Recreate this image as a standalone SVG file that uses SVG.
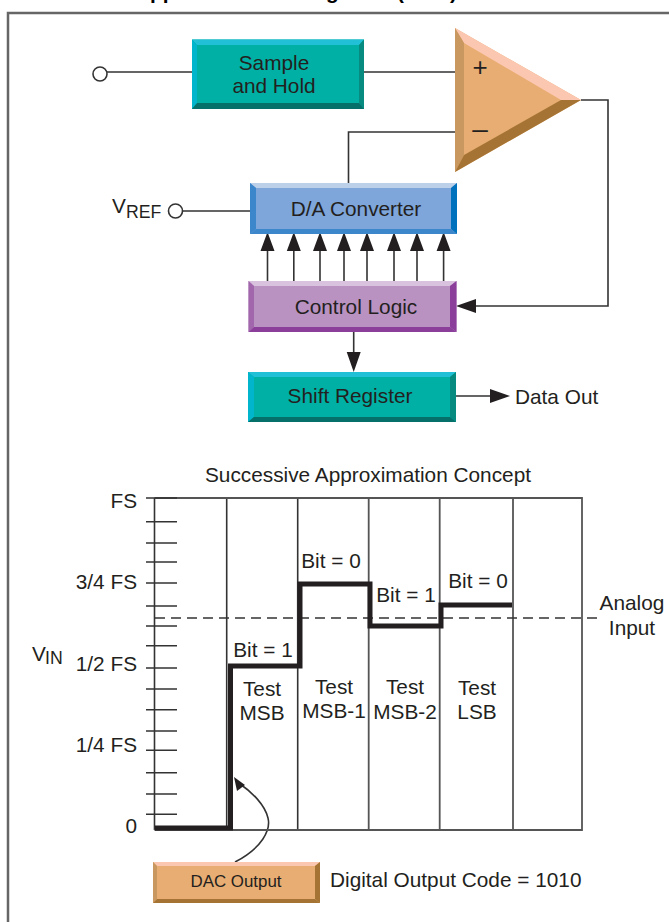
<svg xmlns="http://www.w3.org/2000/svg" width="669" height="922" viewBox="0 0 669 922">
<style>
text{font-family:"Liberation Sans",Arial,sans-serif;font-size:20.800px;fill:#231f20}
.m{text-anchor:middle}.e{text-anchor:end}
.h{font-weight:bold;fill:#000}
.sub{font-size:17.700px}
.l{fill:none;stroke:#333;stroke-width:1.6}
.t{fill:none;stroke:#333;stroke-width:1.6}
.g{fill:none;stroke:#555;stroke-width:1.8}
.s{fill:none;stroke:#231f20;stroke-width:5;stroke-linejoin:miter}
.a{fill:#231f20}
.c{fill:#fff;stroke:#333;stroke-width:1.6}
</style>
<rect x="8" y="13" width="670" height="920" fill="none" stroke="#666" stroke-width="2.5"/>
<g id="title-fragments">
<text class="h" x="150" y="-1">pp</text><text class="h" x="326" y="-1">g</text><text class="h" x="397" y="-1">(</text><text class="h" x="450" y="-1">)</text>
</g>
<g id="connectors">
<path class="l" d="M107 72H192M364 72H455M455 132H348.500V184M581 100H608V306H470M175 211H250"/>
<path class="l" d="M267.500 284V248M293.800 284V248M320 284V248M344 284V248M367 284V248M394 284V248M417 284V248M443.600 284V248M353.700 332V355M456 396H492"/>
<path class="a" d="M260.500 251L267.500 232L274.500 251ZM286.800 251L293.800 232L300.800 251ZM313 251L320 232L327 251ZM337 251L344 232L351 251ZM360 251L367 232L374 251ZM387 251L394 232L401 251ZM410 251L417 232L424 251ZM436.600 251L443.600 232L450.600 251ZM346.700 352L353.700 372L360.700 352ZM490 389L510 396L490 403ZM476 299L456 306L476 313Z"/>
<path class="l" d="M235 862C262 848 271 830 268 818C265 805 252 792 240 784"/>
<path class="a" d="M234 777L245 785L237 791Z"/>
</g>
<g id="sample-hold">
<rect x="192" y="39.500" width="172" height="69.500" fill="#00b0a4"/>
<path fill="#22c0d6" d="M192 39.500H364L359 45H197Z"/><path fill="#00b5cc" d="M192 39.500L197 45V103L192 109Z"/><path fill="#078b80" d="M364 39.500L359 45V103L364 109Z"/><path fill="#056f69" d="M192 109L197 103H359L364 109Z"/>
<text class="m" x="274" y="70">Sample</text><text class="m" x="274" y="93">and Hold</text>
</g>
<g id="comparator">
<path fill="#e8ad72" d="M455 28L581 100L455 172Z"/>
<path fill="#fcc7b0" d="M455 28L581 100L561 100L464 43Z"/><path fill="#c99760" d="M455 28L464 43V155L455 172Z"/><path fill="#a57434" d="M455 172L464 155L561 100L581 100Z"/>
<text class="m" x="480" y="76" style="font-size:26px">+</text><text class="m" x="480" y="138" style="font-size:28px">–</text>
</g>
<g id="dac">
<rect x="250" y="183" width="207" height="51" fill="#7ea6da"/>
<path fill="#bcd0ea" d="M250 183H457L451 188H256Z"/><path fill="#3c87cc" d="M250 183L256 188V229L250 234Z"/><path fill="#0071bc" d="M457 183L451 188V229L457 234Z"/><path fill="#3c87cc" d="M250 234L256 229H451L457 234Z"/>
<text class="m" x="356" y="216">D/A Converter</text>
<text x="112" y="213">V</text><text class="sub" x="126" y="218">REF</text>
<circle class="c" cx="175.500" cy="211" r="7"/>
</g>
<g id="control-logic">
<rect x="248.500" y="281" width="208" height="51" fill="#b992c1"/>
<path fill="#d8c2de" d="M248.500 281H456.500L450 286H254Z"/><path fill="#a266ac" d="M248.500 281L254 286V327L248.500 332Z"/><path fill="#8b3f9b" d="M456.500 281L450 286V327L456.500 332Z"/><path fill="#8b3f9b" d="M248.500 332L254 327H450L456.500 332Z"/>
<text class="m" x="356" y="314">Control Logic</text>
</g>
<g id="shift-register">
<rect x="248" y="372" width="208" height="50" fill="#00b0a4"/>
<path fill="#22c0d6" d="M248 372H456L450 377H254Z"/><path fill="#00b5cc" d="M248 372L254 377V417L248 422Z"/><path fill="#078b80" d="M456 372L450 377V417L456 422Z"/><path fill="#056f69" d="M248 422L254 417H450L456 422Z"/>
<text class="m" x="350" y="403">Shift Register</text>
<text x="515" y="404">Data Out</text>
</g>
<circle class="c" cx="100" cy="74" r="7"/>
<g id="chart">
<text class="m" x="368" y="482">Successive Approximation Concept</text>
<path class="t" d="M154.500 498V830M226.700 498V830M297.700 498V830"/>
<path class="g" d="M154.500 498H582V830H154.500M368.700 498V830M439.700 498V830M513 498V830"/>
<path class="l" d="M146 498H177M146 521.700H177M146 543H177M146 562H177M146 583H177M146 606H177M146 626H177M146 645.700H177M146 668H177M146 689H177M146 709.700H177M146 731H177M146 750.300H177M146 772.700H177M146 794H177M146 814.300H177"/>
<path class="l" d="M155 618H598" stroke-dasharray="10 6"/>
<path class="s" d="M155 828H230.500V666H300V584H370V626H441V605H512"/>
<text class="e" x="137" y="508">FS</text><text class="e" x="137" y="589">3/4 FS</text><text class="e" x="137" y="671">1/2 FS</text><text class="e" x="137" y="752">1/4 FS</text><text class="e" x="137" y="833">0</text>
<text x="32" y="661">V</text><text class="sub" x="45" y="664">IN</text>
<text class="m" x="263" y="657">Bit = 1</text><text class="m" x="331" y="568">Bit = 0</text><text class="m" x="406" y="602">Bit = 1</text><text class="m" x="478" y="588">Bit = 0</text>
<text class="m" x="262" y="696">Test</text><text class="m" x="262" y="720">MSB</text>
<text class="m" x="334" y="694">Test</text><text class="m" x="334" y="718">MSB-1</text>
<text class="m" x="405" y="694">Test</text><text class="m" x="405" y="719">MSB-2</text>
<text class="m" x="477" y="695">Test</text><text class="m" x="477" y="719">LSB</text>
<text class="m" x="632" y="610">Analog</text><text class="m" x="632" y="635">Input</text>
</g>
<g id="dac-output">
<rect x="153" y="862" width="167" height="41" fill="#e8ad72"/>
<path fill="#fcc7b0" d="M153 862H320L315 866H157Z"/><path fill="#c99760" d="M153 862L157 866V899L153 903Z"/><path fill="#a57434" d="M320 862L315 866V899L320 903Z"/><path fill="#a57434" d="M153 903L157 899H315L320 903Z"/>
<text class="m" x="236" y="887" style="font-size:16.900px">DAC Output</text>
</g>
<text x="330" y="887">Digital Output Code = 1010</text>
</svg>
